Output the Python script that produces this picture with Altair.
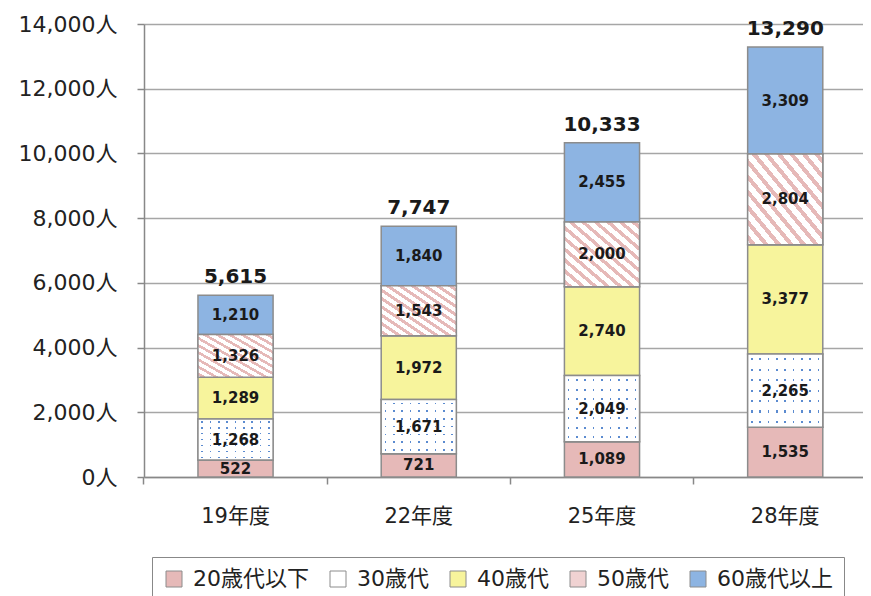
import altair as alt
import pandas as pd

years = ['19年度', '22年度', '25年度', '28年度']
series = ['20歳代以下', '30歳代', '40歳代', '50歳代', '60歳代以上']
v20 = [522, 721, 1089, 1535]
v30 = [1268, 1671, 2049, 2265]
v40 = [1289, 1972, 2740, 3377]
v50 = [1326, 1543, 2000, 2804]
v60 = [1210, 1840, 2455, 3309]
y_ticks = [0, 2000, 4000, 6000, 8000, 10000, 12000, 14000]
colors = ['#e6b9b8', '#ffffff', '#f7f49c', '#f0d2d2', '#8db4e2']

values = [v20, v30, v40, v50, v60]
rows = []
for si, (s, vals) in enumerate(zip(series, values)):
    for y, v in zip(years, vals):
        rows.append({'year': y, 'series': s, 'order': si, 'value': v})
df = pd.DataFrame(rows)

FONT = 'DejaVu Sans, Noto Sans CJK JP'
EDGE = '#8c8c8c'


def stripes(n, on, off, frac, x1, y1, x2, y2):
    stops = []
    for k in range(n):
        a = round((k + 0.5 - frac / 2) / n, 5)
        b = round((k + 0.5 + frac / 2) / n, 5)
        s = round(k / n, 5)
        e = round((k + 1) / n, 5)
        stops += [
            {'offset': s, 'color': off}, {'offset': a, 'color': off},
            {'offset': a, 'color': on}, {'offset': b, 'color': on},
            {'offset': b, 'color': off}, {'offset': e, 'color': off},
        ]
    return {'gradient': 'linear', 'x1': x1, 'y1': y1, 'x2': x2, 'y2': y2, 'stops': stops}


diag = stripes(12, '#e6b9b8', '#ffffff', 0.42, 0, 1, 1, 0)
vlines = stripes(9, '#5b8bd0', '#ffffff', 0.2, 0, 0, 1, 0)
hmask = stripes(7, 'rgba(255,255,255,0)', '#ffffff', 0.22, 0, 0, 0, 1)

base = alt.Chart(df).transform_stack(
    stack='value', groupby=['year'], sort=[alt.SortField('order')], as_=['y0', 'y1']
)

x_enc = alt.X('year:N', sort=years, title=None,
              scale=alt.Scale(paddingInner=0.59, paddingOuter=0.257, align=0.573),
              axis=alt.Axis(labelAngle=0, labelFontSize=21, labelFont=FONT, labelColor='#222222',
                            labelPadding=21, tickSize=7, tickColor='#888888', tickWidth=1.5,
                            domainColor='#888888', domainWidth=1.5, bandPosition=-0.72, grid=False))
y_enc = alt.Y('y0:Q', title=None,
              scale=alt.Scale(domain=[0, 14000], nice=False),
              axis=alt.Axis(values=y_ticks, labelExpr="format(datum.value, ',') + '人'",
                            labelFontSize=22, labelFont=FONT, labelColor='#222222', labelPadding=20,
                            tickSize=7, tickColor='#888888', tickWidth=1.5,
                            domainColor='#888888', domainWidth=1.5,
                            grid=True, gridColor='#a6a6a6', gridWidth=1.5))

bars = base.mark_bar(stroke=EDGE, strokeWidth=1.5).encode(
    x=x_enc, y=y_enc, y2='y1:Q',
    color=alt.Color('series:N', sort=series,
                    scale=alt.Scale(domain=series, range=colors),
                    legend=alt.Legend(orient='none', legendX=8, legendY=533, direction='horizontal',
                                      title=None, symbolType='square', symbolSize=256,
                                      symbolStrokeColor=EDGE, symbolStrokeWidth=1,
                                      labelFontSize=22, labelFont=FONT, labelColor='#222222',
                                      labelOffset=8, columnPadding=18, padding=11,
                                      strokeColor='#888888', fillColor='white')),
)

striped = base.transform_filter(alt.datum.series == '50歳代').mark_bar(
    fill=diag, stroke=EDGE, strokeWidth=1.5).encode(x='year:N', y='y0:Q', y2='y1:Q')

dots_a = base.transform_filter(alt.datum.series == '30歳代').mark_bar(
    fill=vlines).encode(x='year:N', y='y0:Q', y2='y1:Q')
dots_b = base.transform_filter(alt.datum.series == '30歳代').mark_bar(
    fill=hmask, stroke=EDGE, strokeWidth=1.5).encode(x='year:N', y='y0:Q', y2='y1:Q')

labels = base.transform_calculate(mid='(datum.y0 + datum.y1) / 2').mark_text(
    font=FONT, fontSize=15, fontWeight='bold', color='#1a1a1a', baseline='middle'
).encode(x='year:N', y='mid:Q', text=alt.Text('value:Q', format=','))

totals = alt.Chart(df).transform_aggregate(
    total='sum(value)', groupby=['year']
).mark_text(font=FONT, fontSize=20, fontWeight='bold', color='#1a1a1a', baseline='bottom', dy=-8
).encode(x='year:N', y='total:Q', text=alt.Text('total:Q', format=','))

chart = alt.layer(bars, striped, dots_a, dots_b, labels, totals).properties(
    width=719, height=453, autosize='none',
    padding={'left': 136, 'top': 16, 'right': 0, 'bottom': 119},
    background='white'
).configure_view(stroke=None)

chart.save("out.html", embed_options={"renderer": "svg", "actions": False})
